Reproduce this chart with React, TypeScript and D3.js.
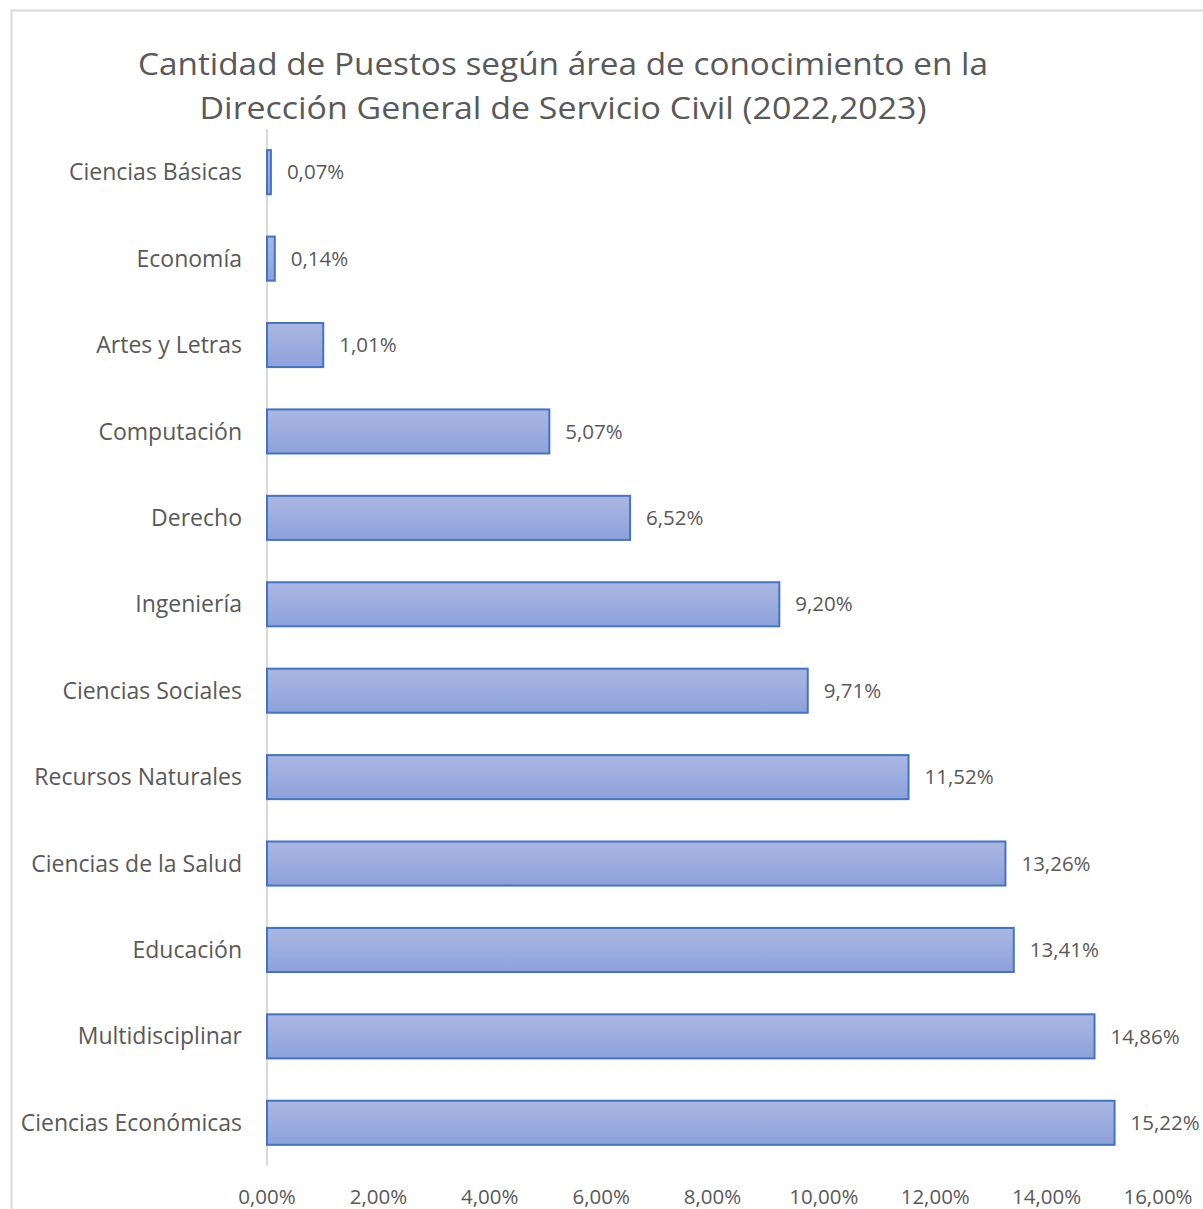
import React from "react";
import * as d3 from "d3";

const categories = [
  "Ciencias Básicas",
  "Economía",
  "Artes y Letras",
  "Computación",
  "Derecho",
  "Ingeniería ",
  "Ciencias Sociales",
  "Recursos Naturales",
  "Ciencias de la Salud",
  "Educación",
  "Multidisciplinar",
  "Ciencias Económicas",
];
const values = [0.07, 0.14, 1.01, 5.07, 6.52, 9.2, 9.71, 11.52, 13.26, 13.41, 14.86, 15.22];
const xTicks = [0, 2, 4, 6, 8, 10, 12, 14, 16];
const titleLines = [
  "Cantidad de Puestos según área de conocimiento en la",
  "Dirección General de Servicio Civil (2022,2023)",
];

const W = 1203;
const H = 1209;
const FONT = "'Open Sans', 'Noto Sans', sans-serif";
const GREY = "#595959";

const fmt = (v: number) => v.toFixed(2).replace(".", ",") + "%";

export default function App() {
  const x = d3.scaleLinear().domain([0, 16]).range([267, 1158]);
  const y = d3.scaleBand<string>().domain(categories).range([129, 1166]).paddingInner(0.49).paddingOuter(0.245);
  return (
    <svg width={W} height={H} style={{ position: "absolute", left: 0, top: 0, background: "#fff" }} fontFamily={FONT}>
      <defs>
        <linearGradient id="barGrad" x1="0" y1="0" x2="0" y2="1">
          <stop offset="0" stopColor="#aab7e2" />
          <stop offset="1" stopColor="#8da2db" />
        </linearGradient>
      </defs>
      <rect x={0} y={0} width={W} height={H} fill="#fff" />
      <path d={`M11.5,${H} V10.5 H${W}`} fill="none" stroke="#d9d9d9" strokeWidth={2} />
      <text x={563} y={75} textAnchor="middle" fontSize={31} fill={GREY} textLength={850} lengthAdjust="spacingAndGlyphs">
        {titleLines[0]}
      </text>
      <text x={563} y={119} textAnchor="middle" fontSize={31} fill={GREY} textLength={727} lengthAdjust="spacingAndGlyphs">
        {titleLines[1]}
      </text>
      <line x1={267} x2={267} y1={129} y2={1166} stroke="#d9d9d9" strokeWidth={2} />
      {categories.map((c, i) => {
        const by = y(c)!;
        const bh = y.bandwidth();
        return (
          <g key={c}>
            <rect x={x(0)} y={by} width={x(values[i]) - x(0)} height={bh} fill="url(#barGrad)" stroke="#4472c4" strokeWidth={2} />
            <text x={242} y={by + bh / 2} dy="0.35em" textAnchor="end" fontSize={23} fill={GREY}>
              {c}
            </text>
            <text x={x(values[i]) + 16} y={by + bh / 2} dy="0.35em" textAnchor="start" fontSize={20.5} fill={GREY}>
              {fmt(values[i])}
            </text>
          </g>
        );
      })}
      {xTicks.map((t) => (
        <text key={t} x={x(t)} y={1197} dy="0.35em" textAnchor="middle" fontSize={20.5} fill={GREY}>
          {fmt(t)}
        </text>
      ))}
    </svg>
  );
}
